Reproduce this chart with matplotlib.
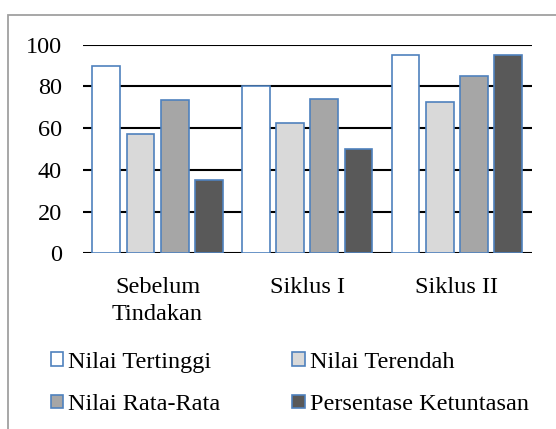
import matplotlib

matplotlib.use("Agg")
import matplotlib.pyplot as plt
import numpy as np
from matplotlib.patches import Patch, Rectangle

plt.rcParams["font.family"] = ["Liberation Serif", "DejaVu Serif"]

categories = ["Sebelum\nTindakan", "Siklus I", "Siklus II"]
series_names = ["Nilai Tertinggi", "Nilai Terendah", "Nilai Rata-Rata", "Persentase Ketuntasan"]
nilai_tertinggi = [90, 80, 95]
nilai_terendah = [57, 62.5, 72.5]
nilai_rata_rata = [73.6, 73.8, 85]
persentase_ketuntasan = [35, 50, 95]
yticks = [0, 20, 40, 60, 80, 100]

fills = ["#FFFFFF", "#D9D9D9", "#A6A6A6", "#595959"]
edge = "#4F81BD"
FS = 17.5

W, H = 556, 429
fig = plt.figure(figsize=(W / 100, H / 100), dpi=100)

# outer chart frame (only top and left edges visible in the crop)
fig.patches.append(Rectangle((8 / W, -0.1), 1.2, 1 - 15 / H + 0.1, transform=fig.transFigure,
                             fill=False, edgecolor="#A0A0A0", linewidth=1.3))

ax = fig.add_axes([82.7 / W, 1 - 253.3 / H, 449 / W, 208.6 / H])
x = np.arange(len(categories))
step, width = 0.229, 0.185
data = [nilai_tertinggi, nilai_terendah, nilai_rata_rata, persentase_ketuntasan]
for k, (vals, fc) in enumerate(zip(data, fills)):
    ax.bar(x + (k - 1.5) * step, vals, width, color=fc, edgecolor=edge, linewidth=1.2, zorder=3)

ax.set_xlim(-0.5, 2.5)
ax.set_ylim(0, 100)
ax.set_yticks(yticks)
ax.set_yticklabels([str(v) for v in yticks], fontsize=FS)
ax.set_xticks(x)
ax.set_xticklabels(categories, fontsize=FS, linespacing=1.4)
ax.tick_params(length=0)
ax.tick_params(axis="y", pad=15)
ax.tick_params(axis="x", pad=17)
for s in ax.spines.values():
    s.set_visible(False)
ax.grid(axis="y", color="black", linewidth=1.5, zorder=0)
ax.set_axisbelow(True)

# legend is filled row by row in the reference, matplotlib fills by column
handles = [Patch(facecolor=fc, edgecolor=edge, linewidth=1.2) for fc in fills]
order = [0, 2, 1, 3]
fig.legend([handles[i] for i in order], [series_names[i] for i in order],
           ncol=2, frameon=False, fontsize=FS,
           loc="upper left", bbox_to_anchor=(51 / W, 1 - 352 / H),
           handlelength=0.5, handleheight=0.5, handletextpad=0.22,
           columnspacing=2.95, labelspacing=0.87, borderaxespad=0, borderpad=0)

fig.savefig("out.png", dpi=100)
